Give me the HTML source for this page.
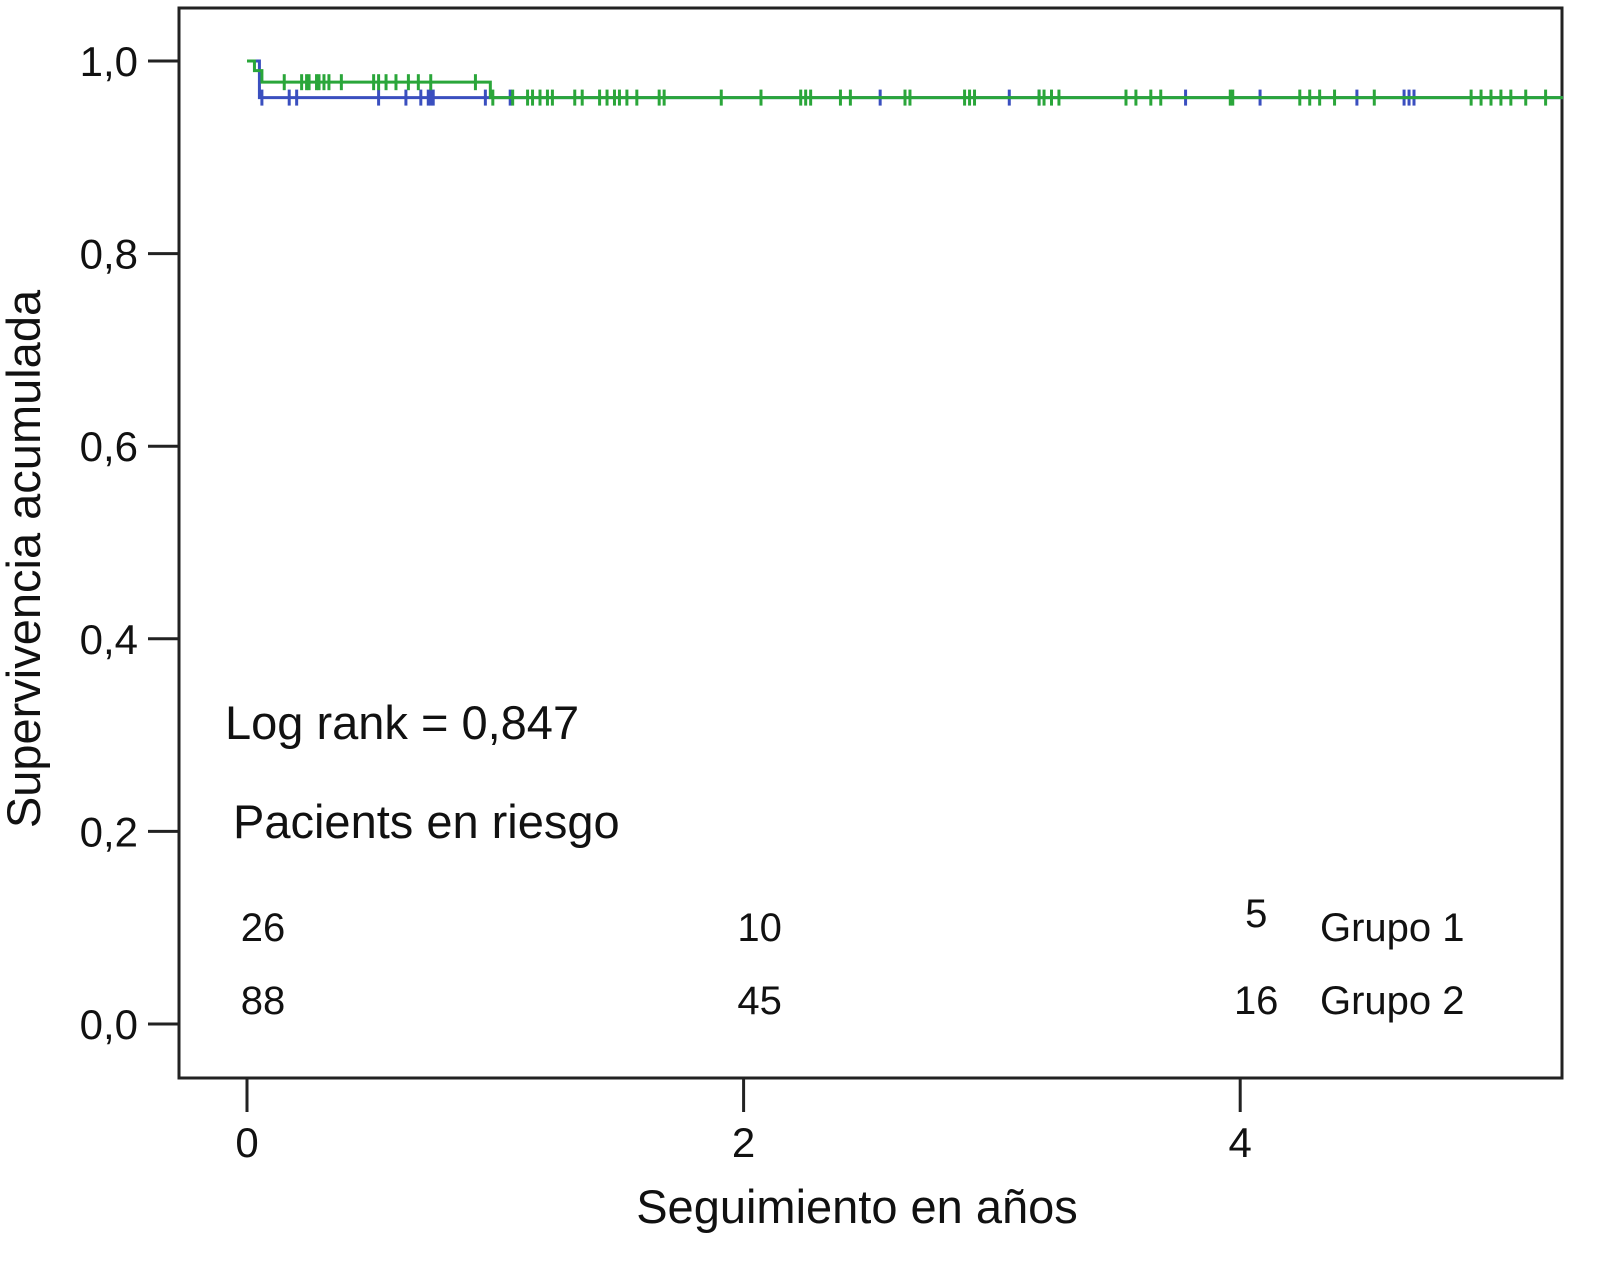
<!DOCTYPE html>
<html><head><meta charset="utf-8"><style>
body{margin:0;background:#fff}
svg text{font-family:"Liberation Sans",Arial,sans-serif;fill:#111}
</style></head><body>
<svg id="chart" width="1624" height="1277" xmlns="http://www.w3.org/2000/svg">
<rect x="0" y="0" width="1624" height="1277" fill="#fff"/>
<rect x="179" y="8" width="1383" height="1070" fill="none" stroke="#222" stroke-width="3"/>
<g id="axes"></g>
<g id="series"></g>
<text transform="translate(40,559) rotate(-90)" text-anchor="middle" font-size="47">Supervivencia acumulada</text>
<text x="857" y="1223" text-anchor="middle" font-size="47">Seguimiento en años</text>
<text x="225" y="739" font-size="47">Log rank = 0,847</text>
<text x="233" y="838" font-size="47">Pacients en riesgo</text>
<g id="risk"></g>
</svg>
<script>
const yTicks=[0,0.2,0.4,0.6,0.8,1.0];
const yTickLabels=["0,0","0,2","0,4","0,6","0,8","1,0"];
const xTicks=[0,2,4];
const xTickLabels=["0","2","4"];
const g1Steps=[[0,1.0],[0.03,0.99],[0.06,0.978],[0.98,0.962]];
const g2Steps=[[0,1.0],[0.05,0.962]];
const g1Censors=[0.15,0.22,0.24,0.25,0.28,0.29,0.31,0.33,0.38,0.51,0.53,0.56,0.6,0.65,0.69,0.74,0.92,0.99,1.07,1.13,1.15,1.18,1.21,1.23,1.32,1.35,1.42,1.45,1.48,1.5,1.53,1.57,1.66,1.68,1.91,2.07,2.23,2.25,2.27,2.39,2.43,2.65,2.67,2.89,2.91,2.93,3.19,3.21,3.24,3.27,3.54,3.58,3.64,3.68,3.96,3.97,4.24,4.28,4.32,4.38,4.54,4.93,4.97,5.01,5.05,5.09,5.15,5.23];
const g2Censors=[0.06,0.17,0.2,0.53,0.64,0.7,0.73,0.74,0.75,0.96,1.06,2.55,3.07,3.19,3.78,4.08,4.47,4.66,4.68,4.7];
const riskTimes=[0,2,4];
const riskG1=[26,10,5];
const riskG2=[88,45,16];
const tMax=5.30;
const X=t=>247+t*248.3;
const Y=v=>1024-v*963;
const NS="http://www.w3.org/2000/svg";
function mk(tag,attrs,parent,txt){const e=document.createElementNS(NS,tag);for(const k in attrs)e.setAttribute(k,attrs[k]);if(txt!==undefined)e.textContent=txt;parent.appendChild(e);return e;}
const axes=document.getElementById('axes');
yTicks.forEach((v,i)=>{
 const l=mk('line',{x1:148,x2:179,y1:Y(v),y2:Y(v),stroke:'#222','stroke-width':3},axes);
 
 
 const t=mk('text',{x:138,y:Y(v)+15,'text-anchor':'end','font-size':42},axes,yTickLabels[i]);
 
 
});
xTicks.forEach((v,i)=>{
 const l=mk('line',{x1:X(v),x2:X(v),y1:1078,y2:1112,stroke:'#222','stroke-width':3},axes);
 
 
 const t=mk('text',{x:X(v),y:1157,'text-anchor':'middle','font-size':42},axes,xTickLabels[i]);
 
 
});
const series=document.getElementById('series');
function stepPath(steps){let d='M'+X(steps[0][0])+','+Y(steps[0][1]);for(let i=1;i<steps.length;i++){d+=' H'+X(steps[i][0])+' V'+Y(steps[i][1]);}d+=' H'+X(tMax);return d;}
function levelAt(steps,t){let v=steps[0][1];for(const s of steps){if(t>=s[0])v=s[1];}return v;}
function draw(steps,cens,color,name){
 const p=mk('path',{d:stepPath(steps),fill:'none',stroke:color,'stroke-width':3},series);
 
 
 cens.forEach(t=>{const y=Y(levelAt(steps,t));
  const c=mk('line',{x1:X(t),x2:X(t),y1:y-8,y2:y+8,stroke:color,'stroke-width':3},series);
  
  });
}
draw(g2Steps,g2Censors,'#3a4fbf','grupo-2');
draw(g1Steps,g1Censors,'#2aa63a','grupo-1');
const risk=document.getElementById('risk');
riskTimes.forEach((t,i)=>{
 const a=mk('text',{x:X(t)+16,y:i==2?927:941,'text-anchor':'middle','font-size':40},risk,riskG1[i]);
 
 
 const b=mk('text',{x:X(t)+16,y:1014,'text-anchor':'middle','font-size':40},risk,riskG2[i]);
 
 
});
const l1=mk('text',{x:1320,y:941,'font-size':40},risk,'Grupo 1');


const l2=mk('text',{x:1320,y:1014,'font-size':40},risk,'Grupo 2');


</script>
</body></html>
